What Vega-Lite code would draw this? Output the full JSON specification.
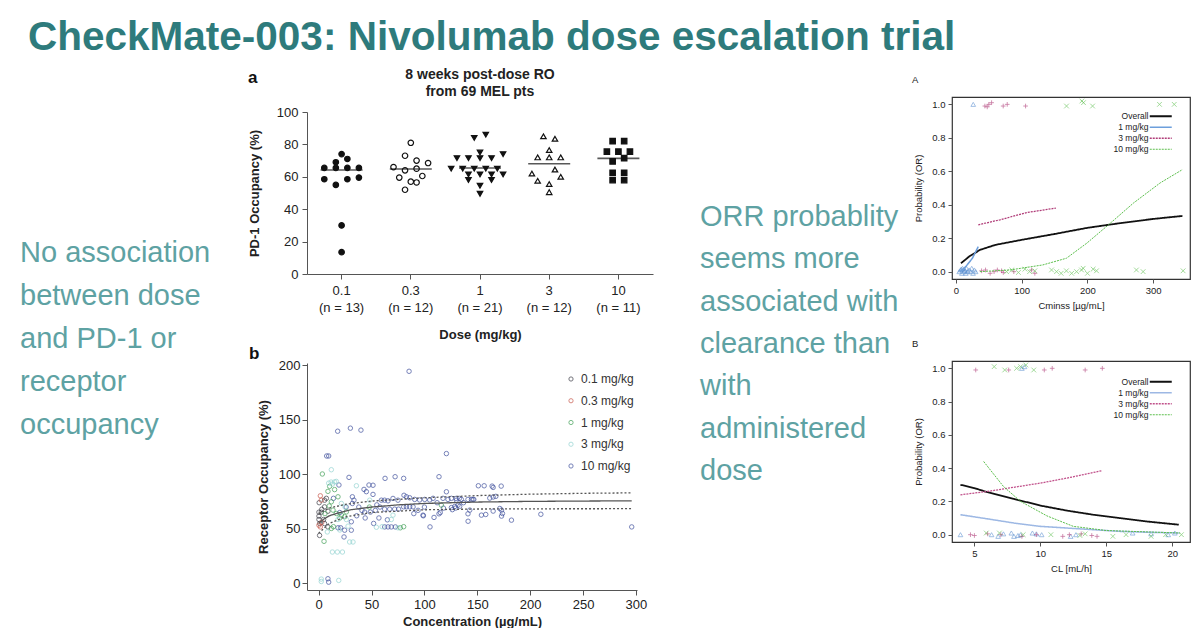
{
  "$schema": "https://vega.github.io/schema/vega-lite/v6.json",
  "background": "white",
  "padding": {"left": 20, "top": 17, "right": 0, "bottom": 0},
  "title": {"text": "CheckMate-003: Nivolumab dose escalation trial", "anchor": "start", "frame": "group", "dx": 8, "font": "Liberation Sans", "fontSize": 40.5, "fontWeight": "bold", "color": "#2e7b7c", "offset": 10},
  "spacing": 252,
  "bounds": "flush",
  "resolve": {"scale": {"color": "independent", "fill": "independent", "stroke": "independent", "shape": "independent", "size": "independent", "strokeDash": "independent", "strokeWidth": "independent"}, "legend": {"color": "independent", "fill": "independent", "stroke": "independent", "shape": "independent", "size": "independent", "strokeDash": "independent", "strokeWidth": "independent"}},
  "datasets": {
    "left_text": [
      {"line": 1, "text": "No association"},
      {"line": 2, "text": "between dose"},
      {"line": 3, "text": "and PD-1 or"},
      {"line": 4, "text": "receptor"},
      {"line": 5, "text": "occupancy"}
    ],
    "mid_text": [
      {"line": 1, "text": "ORR probablity"},
      {"line": 2, "text": "seems more"},
      {"line": 3, "text": "associated with"},
      {"line": 4, "text": "clearance than"},
      {"line": 5, "text": "with"},
      {"line": 6, "text": "administered"},
      {"line": 7, "text": "dose"}
    ],
    "ro_dose": [
      {"dose": "0.1", "ro": 74, "col": 0}, {"dose": "0.1", "ro": 71, "col": 1}, {"dose": "0.1", "ro": 69, "col": -1},
      {"dose": "0.1", "ro": 65.5, "col": -3}, {"dose": "0.1", "ro": 65.5, "col": -1}, {"dose": "0.1", "ro": 65.5, "col": 1}, {"dose": "0.1", "ro": 65.5, "col": 3},
      {"dose": "0.1", "ro": 58.5, "col": -3}, {"dose": "0.1", "ro": 58.5, "col": 1}, {"dose": "0.1", "ro": 59.5, "col": 3},
      {"dose": "0.1", "ro": 55, "col": -1}, {"dose": "0.1", "ro": 30, "col": 0}, {"dose": "0.1", "ro": 13.5, "col": 0},
      {"dose": "0.3", "ro": 81, "col": 0}, {"dose": "0.3", "ro": 73, "col": -1}, {"dose": "0.3", "ro": 70, "col": 1}, {"dose": "0.3", "ro": 68.5, "col": 3},
      {"dose": "0.3", "ro": 66, "col": -3}, {"dose": "0.3", "ro": 65, "col": 1}, {"dose": "0.3", "ro": 64, "col": -1}, {"dose": "0.3", "ro": 59.5, "col": -2},
      {"dose": "0.3", "ro": 60.5, "col": 2}, {"dose": "0.3", "ro": 57, "col": 0}, {"dose": "0.3", "ro": 56.5, "col": 1}, {"dose": "0.3", "ro": 52, "col": -1},
      {"dose": "1", "ro": 86, "col": 1}, {"dose": "1", "ro": 84, "col": -1}, {"dose": "1", "ro": 75, "col": 0}, {"dose": "1", "ro": 74, "col": 4},
      {"dose": "1", "ro": 71.5, "col": -4}, {"dose": "1", "ro": 71.5, "col": -2}, {"dose": "1", "ro": 71.5, "col": 0}, {"dose": "1", "ro": 71.5, "col": 2},
      {"dose": "1", "ro": 65, "col": -5}, {"dose": "1", "ro": 65, "col": -3}, {"dose": "1", "ro": 65, "col": -1}, {"dose": "1", "ro": 65, "col": 1}, {"dose": "1", "ro": 65, "col": 3},
      {"dose": "1", "ro": 61.5, "col": -2}, {"dose": "1", "ro": 61.5, "col": 0}, {"dose": "1", "ro": 61.5, "col": 2}, {"dose": "1", "ro": 61.5, "col": 4},
      {"dose": "1", "ro": 58, "col": -2}, {"dose": "1", "ro": 58, "col": 2}, {"dose": "1", "ro": 54.5, "col": 0}, {"dose": "1", "ro": 49.5, "col": 0},
      {"dose": "3", "ro": 85, "col": -1}, {"dose": "3", "ro": 83.5, "col": 1}, {"dose": "3", "ro": 76.5, "col": 0},
      {"dose": "3", "ro": 72, "col": -2}, {"dose": "3", "ro": 72, "col": 0}, {"dose": "3", "ro": 72, "col": 2},
      {"dose": "3", "ro": 64.5, "col": 1}, {"dose": "3", "ro": 62, "col": -3}, {"dose": "3", "ro": 60, "col": 2}, {"dose": "3", "ro": 57.5, "col": -2},
      {"dose": "3", "ro": 55.5, "col": 0}, {"dose": "3", "ro": 50.5, "col": 0},
      {"dose": "10", "ro": 82, "col": -1}, {"dose": "10", "ro": 82, "col": 1}, {"dose": "10", "ro": 75.5, "col": -2}, {"dose": "10", "ro": 75.5, "col": 0}, {"dose": "10", "ro": 75.5, "col": 2},
      {"dose": "10", "ro": 71.5, "col": 1}, {"dose": "10", "ro": 69.5, "col": -1}, {"dose": "10", "ro": 62.5, "col": -1}, {"dose": "10", "ro": 62.5, "col": 1},
      {"dose": "10", "ro": 58, "col": -1}, {"dose": "10", "ro": 58, "col": 1}
    ],
    "ro_median": [
      {"dose": "0.1", "ro": 64.2}, {"dose": "0.3", "ro": 64.8}, {"dose": "1", "ro": 65.4}, {"dose": "3", "ro": 68.1}, {"dose": "10", "ro": 71.4}
    ],
    "ro_conc": [
      {"c": 85.5, "r": 194.4, "d": "10 mg/kg"}, {"c": 18, "r": 139.5, "d": "10 mg/kg"}, {"c": 30, "r": 142.3, "d": "10 mg/kg"}, {"c": 40, "r": 140.5, "d": "10 mg/kg"},
      {"c": 7.6, "r": 116.8, "d": "10 mg/kg"}, {"c": 9.5, "r": 116.8, "d": "10 mg/kg"}, {"c": 120.8, "r": 119, "d": "10 mg/kg"}, {"c": 28.7, "r": 97.2, "d": "10 mg/kg"},
      {"c": 62.8, "r": 96.3, "d": "10 mg/kg"}, {"c": 72.3, "r": 97.8, "d": "10 mg/kg"}, {"c": 80.4, "r": 96.3, "d": "10 mg/kg"}, {"c": 113.8, "r": 97.8, "d": "10 mg/kg"},
      {"c": 151, "r": 89.5, "d": "10 mg/kg"}, {"c": 156.5, "r": 89.5, "d": "10 mg/kg"}, {"c": 164, "r": 89.2, "d": "10 mg/kg"}, {"c": 165, "r": 88, "d": "10 mg/kg"},
      {"c": 172.6, "r": 89.2, "d": "10 mg/kg"}, {"c": 51.4, "r": 90, "d": "10 mg/kg"}, {"c": 19.2, "r": 90.2, "d": "10 mg/kg"}, {"c": 47.6, "r": 90.2, "d": "10 mg/kg"},
      {"c": 42.9, "r": 86.2, "d": "10 mg/kg"}, {"c": 45.1, "r": 84.1, "d": "10 mg/kg"}, {"c": 51.4, "r": 81.6, "d": "10 mg/kg"}, {"c": 31.9, "r": 79.4, "d": "10 mg/kg"},
      {"c": 33.4, "r": 76.3, "d": "10 mg/kg"}, {"c": 31.9, "r": 73.3, "d": "10 mg/kg"}, {"c": 59.3, "r": 76.3, "d": "10 mg/kg"}, {"c": 62.4, "r": 76.3, "d": "10 mg/kg"},
      {"c": 65.6, "r": 75.7, "d": "10 mg/kg"}, {"c": 70.3, "r": 77.9, "d": "10 mg/kg"}, {"c": 75, "r": 76.3, "d": "10 mg/kg"}, {"c": 80.7, "r": 80.8, "d": "10 mg/kg"},
      {"c": 83, "r": 79.4, "d": "10 mg/kg"}, {"c": 86.1, "r": 78.5, "d": "10 mg/kg"}, {"c": 90.8, "r": 77, "d": "10 mg/kg"}, {"c": 95.5, "r": 76.5, "d": "10 mg/kg"},
      {"c": 100.3, "r": 77, "d": "10 mg/kg"}, {"c": 105, "r": 76.5, "d": "10 mg/kg"}, {"c": 108.2, "r": 78, "d": "10 mg/kg"}, {"c": 117.6, "r": 78, "d": "10 mg/kg"},
      {"c": 122.3, "r": 77, "d": "10 mg/kg"}, {"c": 125.5, "r": 78, "d": "10 mg/kg"}, {"c": 130.2, "r": 76.3, "d": "10 mg/kg"}, {"c": 134.9, "r": 77, "d": "10 mg/kg"},
      {"c": 141.2, "r": 77, "d": "10 mg/kg"}, {"c": 145.9, "r": 77, "d": "10 mg/kg"}, {"c": 80.4, "r": 70.2, "d": "10 mg/kg"}, {"c": 83, "r": 70.2, "d": "10 mg/kg"},
      {"c": 86.1, "r": 70.2, "d": "10 mg/kg"}, {"c": 89.3, "r": 70.2, "d": "10 mg/kg"}, {"c": 125.5, "r": 69.5, "d": "10 mg/kg"}, {"c": 128.7, "r": 70.5, "d": "10 mg/kg"},
      {"c": 131.8, "r": 71.8, "d": "10 mg/kg"}, {"c": 98.7, "r": 62.6, "d": "10 mg/kg"}, {"c": 109.1, "r": 60.5, "d": "10 mg/kg"}, {"c": 105.3, "r": 51.8, "d": "10 mg/kg"},
      {"c": 113.8, "r": 63.8, "d": "10 mg/kg"}, {"c": 141.2, "r": 63.8, "d": "10 mg/kg"}, {"c": 141.3, "r": 57, "d": "10 mg/kg"}, {"c": 41, "r": 66.9, "d": "10 mg/kg"},
      {"c": 43.5, "r": 65.4, "d": "10 mg/kg"}, {"c": 48.9, "r": 65.4, "d": "10 mg/kg"}, {"c": 53.6, "r": 66.9, "d": "10 mg/kg"}, {"c": 62.4, "r": 68.1, "d": "10 mg/kg"},
      {"c": 67.2, "r": 68.1, "d": "10 mg/kg"}, {"c": 71.9, "r": 68.1, "d": "10 mg/kg"}, {"c": 75.6, "r": 68.1, "d": "10 mg/kg"}, {"c": 62.4, "r": 51.8, "d": "10 mg/kg"},
      {"c": 65.6, "r": 51.8, "d": "10 mg/kg"}, {"c": 68.7, "r": 51.8, "d": "10 mg/kg"}, {"c": 72.5, "r": 51.8, "d": "10 mg/kg"}, {"c": 65, "r": 58.3, "d": "10 mg/kg"},
      {"c": 24.6, "r": 48.8, "d": "10 mg/kg"}, {"c": 24, "r": 42.6, "d": "10 mg/kg"}, {"c": 20.8, "r": 51, "d": "10 mg/kg"}, {"c": 18.3, "r": 51, "d": "10 mg/kg"},
      {"c": 30.9, "r": 48.8, "d": "10 mg/kg"}, {"c": 30.9, "r": 56.5, "d": "10 mg/kg"}, {"c": 9.5, "r": 1.2, "d": "10 mg/kg"}, {"c": 8.8, "r": 4.3, "d": "10 mg/kg"},
      {"c": 144.5, "r": 77, "d": "10 mg/kg"}, {"c": 146.7, "r": 77, "d": "10 mg/kg"}, {"c": 161.8, "r": 78.2, "d": "10 mg/kg"}, {"c": 165, "r": 79.2, "d": "10 mg/kg"},
      {"c": 167.5, "r": 79.8, "d": "10 mg/kg"}, {"c": 142.9, "r": 67.2, "d": "10 mg/kg"}, {"c": 153.9, "r": 62.6, "d": "10 mg/kg"}, {"c": 158, "r": 63.2, "d": "10 mg/kg"},
      {"c": 165, "r": 66.3, "d": "10 mg/kg"}, {"c": 171.3, "r": 68.7, "d": "10 mg/kg"}, {"c": 172.9, "r": 67.2, "d": "10 mg/kg"}, {"c": 173.8, "r": 64.1, "d": "10 mg/kg"},
      {"c": 172.9, "r": 61.7, "d": "10 mg/kg"}, {"c": 182.3, "r": 58, "d": "10 mg/kg"}, {"c": 210.1, "r": 63.4, "d": "10 mg/kg"}, {"c": 296, "r": 51.8, "d": "10 mg/kg"},
      {"c": 99, "r": 62, "d": "10 mg/kg"}, {"c": 115, "r": 65, "d": "10 mg/kg"}, {"c": 130, "r": 77.9, "d": "10 mg/kg"}, {"c": 133, "r": 77.9, "d": "10 mg/kg"},
      {"c": 126.4, "r": 67.6, "d": "10 mg/kg"}, {"c": 129.6, "r": 69.1, "d": "10 mg/kg"}, {"c": 133.4, "r": 70.7, "d": "10 mg/kg"}, {"c": 120.8, "r": 84, "d": "10 mg/kg"},
      {"c": 36, "r": 62, "d": "10 mg/kg"}, {"c": 38, "r": 70, "d": "10 mg/kg"}, {"c": 55, "r": 72, "d": "10 mg/kg"}, {"c": 57, "r": 60, "d": "10 mg/kg"},
      {"c": 90, "r": 64, "d": "10 mg/kg"}, {"c": 94, "r": 67, "d": "10 mg/kg"}, {"c": 20, "r": 65, "d": "10 mg/kg"}, {"c": 26, "r": 70, "d": "10 mg/kg"},
      {"c": 14, "r": 78, "d": "10 mg/kg"}, {"c": 58, "r": 70, "d": "10 mg/kg"}, {"c": 44, "r": 60, "d": "10 mg/kg"}, {"c": 52, "r": 55, "d": "10 mg/kg"},
      {"c": 112, "r": 74, "d": "10 mg/kg"}, {"c": 118, "r": 69, "d": "10 mg/kg"}, {"c": 137, "r": 74, "d": "10 mg/kg"}, {"c": 100, "r": 70, "d": "10 mg/kg"},
      {"c": 0.3, "r": 65.3, "d": "0.1 mg/kg"}, {"c": 2.5, "r": 65.3, "d": "0.1 mg/kg"}, {"c": 5.6, "r": 70.2, "d": "0.1 mg/kg"}, {"c": 8.8, "r": 66.2, "d": "0.1 mg/kg"},
      {"c": 0.3, "r": 58.6, "d": "0.1 mg/kg"}, {"c": 0.3, "r": 61.7, "d": "0.1 mg/kg"}, {"c": 4.7, "r": 58.6, "d": "0.1 mg/kg"}, {"c": 0.9, "r": 44, "d": "0.1 mg/kg"},
      {"c": 5.6, "r": 76.3, "d": "0.1 mg/kg"}, {"c": 7.3, "r": 78, "d": "0.1 mg/kg"}, {"c": 8.8, "r": 51.8, "d": "0.1 mg/kg"}, {"c": 5.6, "r": 54.9, "d": "0.1 mg/kg"},
      {"c": 0.5, "r": 74, "d": "0.1 mg/kg"}, {"c": 3, "r": 68, "d": "0.1 mg/kg"}, {"c": 1, "r": 55, "d": "0.1 mg/kg"},
      {"c": 1.6, "r": 80.3, "d": "0.3 mg/kg"}, {"c": 1.6, "r": 51.8, "d": "0.3 mg/kg"}, {"c": 2.5, "r": 76.3, "d": "0.3 mg/kg"}, {"c": 0.3, "r": 53.4, "d": "0.3 mg/kg"}, {"c": 3, "r": 56, "d": "0.3 mg/kg"},
      {"c": 3.5, "r": 100.3, "d": "1 mg/kg"}, {"c": 5.1, "r": 38.6, "d": "1 mg/kg"}, {"c": 8.8, "r": 84.4, "d": "1 mg/kg"}, {"c": 10.4, "r": 89, "d": "1 mg/kg"},
      {"c": 15.1, "r": 86, "d": "1 mg/kg"}, {"c": 18.3, "r": 79.4, "d": "1 mg/kg"}, {"c": 12, "r": 74.8, "d": "1 mg/kg"}, {"c": 13.6, "r": 67.2, "d": "1 mg/kg"},
      {"c": 16.7, "r": 64.1, "d": "1 mg/kg"}, {"c": 21.5, "r": 62.6, "d": "1 mg/kg"}, {"c": 24.6, "r": 61.1, "d": "1 mg/kg"}, {"c": 12, "r": 50.4, "d": "1 mg/kg"},
      {"c": 26.2, "r": 65.6, "d": "1 mg/kg"}, {"c": 77.2, "r": 51, "d": "1 mg/kg"}, {"c": 80.4, "r": 52, "d": "1 mg/kg"}, {"c": 116, "r": 71.8, "d": "1 mg/kg"},
      {"c": 10, "r": 71, "d": "1 mg/kg"}, {"c": 6, "r": 64, "d": "1 mg/kg"}, {"c": 20, "r": 60, "d": "1 mg/kg"}, {"c": 48, "r": 70, "d": "1 mg/kg"}, {"c": 14, "r": 52, "d": "1 mg/kg"},
      {"c": 12, "r": 104.2, "d": "3 mg/kg"}, {"c": 9.5, "r": 91.9, "d": "3 mg/kg"}, {"c": 16.7, "r": 93.5, "d": "3 mg/kg"}, {"c": 35.7, "r": 89.5, "d": "3 mg/kg"},
      {"c": 21.5, "r": 73.3, "d": "3 mg/kg"}, {"c": 26.2, "r": 58.6, "d": "3 mg/kg"}, {"c": 27.8, "r": 52.5, "d": "3 mg/kg"}, {"c": 8.2, "r": 47.2, "d": "3 mg/kg"},
      {"c": 18.3, "r": 58.6, "d": "3 mg/kg"}, {"c": 48.3, "r": 76.3, "d": "3 mg/kg"}, {"c": 68.7, "r": 58.6, "d": "3 mg/kg"}, {"c": 70.3, "r": 62.6, "d": "3 mg/kg"},
      {"c": 54.6, "r": 51.5, "d": "3 mg/kg"}, {"c": 29.3, "r": 38, "d": "3 mg/kg"}, {"c": 32.5, "r": 38, "d": "3 mg/kg"}, {"c": 13, "r": 28.8, "d": "3 mg/kg"},
      {"c": 17.7, "r": 28.8, "d": "3 mg/kg"}, {"c": 22.5, "r": 28.8, "d": "3 mg/kg"}, {"c": 2.5, "r": 1.8, "d": "3 mg/kg"}, {"c": 19, "r": 2.8, "d": "3 mg/kg"},
      {"c": 2.5, "r": 4, "d": "3 mg/kg"}, {"c": 13, "r": 91, "d": "3 mg/kg"}, {"c": 15.1, "r": 93, "d": "3 mg/kg"}, {"c": 11.8, "r": 92.9, "d": "3 mg/kg"},
      {"c": 25, "r": 70, "d": "3 mg/kg"}, {"c": 60, "r": 52, "d": "3 mg/kg"}, {"c": 75, "r": 51, "d": "3 mg/kg"}, {"c": 20, "r": 49, "d": "3 mg/kg"}
    ],
    "ro_fit": [
      {"c": 0, "r": 55, "k": "fit"}, {"c": 5, "r": 59, "k": "fit"}, {"c": 10, "r": 62, "k": "fit"}, {"c": 20, "r": 65, "k": "fit"}, {"c": 30, "r": 67.5, "k": "fit"},
      {"c": 50, "r": 70, "k": "fit"}, {"c": 75, "r": 72, "k": "fit"}, {"c": 100, "r": 73.3, "k": "fit"}, {"c": 150, "r": 74.6, "k": "fit"}, {"c": 200, "r": 75.2, "k": "fit"},
      {"c": 250, "r": 75.5, "k": "fit"}, {"c": 296, "r": 75.7, "k": "fit"},
      {"c": 0, "r": 64, "k": "upper"}, {"c": 10, "r": 69, "k": "upper"}, {"c": 25, "r": 72.5, "k": "upper"}, {"c": 50, "r": 75.5, "k": "upper"}, {"c": 100, "r": 78.5, "k": "upper"},
      {"c": 150, "r": 80.5, "k": "upper"}, {"c": 200, "r": 81.8, "k": "upper"}, {"c": 250, "r": 82.6, "k": "upper"}, {"c": 296, "r": 83, "k": "upper"},
      {"c": 0, "r": 46, "k": "lower"}, {"c": 10, "r": 55, "k": "lower"}, {"c": 25, "r": 61, "k": "lower"}, {"c": 50, "r": 65, "k": "lower"}, {"c": 100, "r": 67.5, "k": "lower"},
      {"c": 150, "r": 68.2, "k": "lower"}, {"c": 200, "r": 68.4, "k": "lower"}, {"c": 296, "r": 68.5, "k": "lower"}
    ],
    "orr_c_pts": [
      {"x": 26.3, "y": 1.0, "g": "1 mg/kg"}, {"x": 5, "y": 0, "g": "1 mg/kg"}, {"x": 7, "y": 0.01, "g": "1 mg/kg"}, {"x": 9, "y": -0.01, "g": "1 mg/kg"}, {"x": 10, "y": 0.02, "g": "1 mg/kg"},
      {"x": 12, "y": 0, "g": "1 mg/kg"}, {"x": 13, "y": 0.01, "g": "1 mg/kg"}, {"x": 15, "y": -0.01, "g": "1 mg/kg"}, {"x": 16, "y": 0.02, "g": "1 mg/kg"}, {"x": 18, "y": 0, "g": "1 mg/kg"},
      {"x": 20, "y": 0.01, "g": "1 mg/kg"}, {"x": 22, "y": 0, "g": "1 mg/kg"}, {"x": 24, "y": 0.02, "g": "1 mg/kg"}, {"x": 26, "y": -0.01, "g": "1 mg/kg"}, {"x": 28, "y": 0.01, "g": "1 mg/kg"},
      {"x": 30, "y": 0, "g": "1 mg/kg"}, {"x": 14, "y": 0.005, "g": "1 mg/kg"}, {"x": 8, "y": 0.015, "g": "1 mg/kg"},
      {"x": 44, "y": 0.99, "g": "3 mg/kg"}, {"x": 47.6, "y": 0.985, "g": "3 mg/kg"}, {"x": 50, "y": 1.0, "g": "3 mg/kg"}, {"x": 54.2, "y": 1.01, "g": "3 mg/kg"}, {"x": 71.9, "y": 0.99, "g": "3 mg/kg"},
      {"x": 78, "y": 1.0, "g": "3 mg/kg"}, {"x": 105.9, "y": 0.99, "g": "3 mg/kg"}, {"x": 39, "y": 0.005, "g": "3 mg/kg"}, {"x": 45, "y": 0.01, "g": "3 mg/kg"}, {"x": 52, "y": -0.01, "g": "3 mg/kg"},
      {"x": 58, "y": 0, "g": "3 mg/kg"}, {"x": 63, "y": 0.01, "g": "3 mg/kg"}, {"x": 69.4, "y": 0.005, "g": "3 mg/kg"}, {"x": 72, "y": -0.005, "g": "3 mg/kg"}, {"x": 88, "y": 0, "g": "3 mg/kg"},
      {"x": 115, "y": 0.01, "g": "3 mg/kg"}, {"x": 120, "y": -0.01, "g": "3 mg/kg"},
      {"x": 168.2, "y": 0.99, "g": "10 mg/kg"}, {"x": 191.6, "y": 1.02, "g": "10 mg/kg"}, {"x": 194, "y": 1.01, "g": "10 mg/kg"}, {"x": 207.8, "y": 0.99, "g": "10 mg/kg"}, {"x": 309.6, "y": 1.0, "g": "10 mg/kg"},
      {"x": 332, "y": 1.0, "g": "10 mg/kg"}, {"x": 77, "y": 0, "g": "10 mg/kg"}, {"x": 85, "y": 0.01, "g": "10 mg/kg"}, {"x": 95, "y": -0.005, "g": "10 mg/kg"}, {"x": 105, "y": 0.015, "g": "10 mg/kg"},
      {"x": 112, "y": 0, "g": "10 mg/kg"}, {"x": 120, "y": 0.005, "g": "10 mg/kg"}, {"x": 145.4, "y": 0.01, "g": "10 mg/kg"}, {"x": 153, "y": 0, "g": "10 mg/kg"}, {"x": 160, "y": -0.01, "g": "10 mg/kg"},
      {"x": 168, "y": 0.005, "g": "10 mg/kg"}, {"x": 176, "y": -0.01, "g": "10 mg/kg"}, {"x": 183.5, "y": 0, "g": "10 mg/kg"}, {"x": 191, "y": 0.01, "g": "10 mg/kg"}, {"x": 193.5, "y": 0.02, "g": "10 mg/kg"},
      {"x": 200, "y": -0.01, "g": "10 mg/kg"}, {"x": 208.7, "y": 0.015, "g": "10 mg/kg"}, {"x": 213.8, "y": 0.005, "g": "10 mg/kg"}, {"x": 274.5, "y": 0.01, "g": "10 mg/kg"}, {"x": 284.7, "y": 0, "g": "10 mg/kg"},
      {"x": 345.5, "y": 0.005, "g": "10 mg/kg"}
    ],
    "orr_c_lines": [
      {"x": 7.6, "y": 0.05, "g": "Overall"}, {"x": 20, "y": 0.09, "g": "Overall"}, {"x": 36.5, "y": 0.13, "g": "Overall"}, {"x": 60, "y": 0.16, "g": "Overall"}, {"x": 100, "y": 0.19, "g": "Overall"},
      {"x": 150, "y": 0.225, "g": "Overall"}, {"x": 200, "y": 0.262, "g": "Overall"}, {"x": 250, "y": 0.29, "g": "Overall"}, {"x": 300, "y": 0.315, "g": "Overall"}, {"x": 344.5, "y": 0.333, "g": "Overall"},
      {"x": 6, "y": 0, "g": "1 mg/kg"}, {"x": 15, "y": 0.03, "g": "1 mg/kg"}, {"x": 25, "y": 0.08, "g": "1 mg/kg"}, {"x": 34, "y": 0.15, "g": "1 mg/kg"},
      {"x": 34, "y": 0.28, "g": "3 mg/kg"}, {"x": 67, "y": 0.31, "g": "3 mg/kg"}, {"x": 107.6, "y": 0.353, "g": "3 mg/kg"}, {"x": 152, "y": 0.38, "g": "3 mg/kg"},
      {"x": 36.5, "y": 0, "g": "10 mg/kg"}, {"x": 82, "y": 0.01, "g": "10 mg/kg"}, {"x": 132, "y": 0.04, "g": "10 mg/kg"}, {"x": 168, "y": 0.08, "g": "10 mg/kg"}, {"x": 199, "y": 0.17, "g": "10 mg/kg"},
      {"x": 232, "y": 0.28, "g": "10 mg/kg"}, {"x": 270, "y": 0.41, "g": "10 mg/kg"}, {"x": 310.5, "y": 0.53, "g": "10 mg/kg"}, {"x": 344.5, "y": 0.61, "g": "10 mg/kg"}
    ],
    "orr_cl_pts": [
      {"x": 8.6, "y": 1.0, "g": "1 mg/kg"}, {"x": 8.8, "y": 1.01, "g": "1 mg/kg"}, {"x": 3.94, "y": 0, "g": "1 mg/kg"}, {"x": 6.3, "y": 0, "g": "1 mg/kg"}, {"x": 6.8, "y": -0.01, "g": "1 mg/kg"},
      {"x": 7.2, "y": 0.005, "g": "1 mg/kg"}, {"x": 7.8, "y": 0.01, "g": "1 mg/kg"}, {"x": 8.0, "y": -0.01, "g": "1 mg/kg"}, {"x": 8.3, "y": -0.005, "g": "1 mg/kg"}, {"x": 8.5, "y": 0, "g": "1 mg/kg"},
      {"x": 9.4, "y": 0.01, "g": "1 mg/kg"}, {"x": 9.7, "y": 0.005, "g": "1 mg/kg"}, {"x": 10.1, "y": 0, "g": "1 mg/kg"}, {"x": 12.3, "y": -0.01, "g": "1 mg/kg"}, {"x": 12.7, "y": 0, "g": "1 mg/kg"},
      {"x": 17, "y": 0.01, "g": "1 mg/kg"}, {"x": 18.4, "y": 0.005, "g": "1 mg/kg"}, {"x": 19.7, "y": 0, "g": "1 mg/kg"}, {"x": 20.2, "y": 0.01, "g": "1 mg/kg"},
      {"x": 5.1, "y": 0.99, "g": "3 mg/kg"}, {"x": 7.6, "y": 0.99, "g": "3 mg/kg"}, {"x": 10.3, "y": 0.99, "g": "3 mg/kg"}, {"x": 10.9, "y": 1.0, "g": "3 mg/kg"}, {"x": 13.4, "y": 0.99, "g": "3 mg/kg"},
      {"x": 14.7, "y": 1.0, "g": "3 mg/kg"}, {"x": 4.7, "y": 0, "g": "3 mg/kg"}, {"x": 5.0, "y": -0.005, "g": "3 mg/kg"}, {"x": 6.0, "y": 0.005, "g": "3 mg/kg"}, {"x": 7.0, "y": 0, "g": "3 mg/kg"},
      {"x": 8.6, "y": -0.01, "g": "3 mg/kg"}, {"x": 9.7, "y": 0, "g": "3 mg/kg"}, {"x": 11.7, "y": -0.01, "g": "3 mg/kg"}, {"x": 12.2, "y": 0, "g": "3 mg/kg"}, {"x": 13.1, "y": 0.005, "g": "3 mg/kg"},
      {"x": 13.9, "y": -0.005, "g": "3 mg/kg"}, {"x": 14.3, "y": -0.01, "g": "3 mg/kg"},
      {"x": 6.5, "y": 1.01, "g": "10 mg/kg"}, {"x": 7.3, "y": 0.99, "g": "10 mg/kg"}, {"x": 8.2, "y": 1.0, "g": "10 mg/kg"}, {"x": 8.5, "y": 1.01, "g": "10 mg/kg"}, {"x": 8.9, "y": 1.02, "g": "10 mg/kg"},
      {"x": 9.5, "y": 0.99, "g": "10 mg/kg"}, {"x": 5.9, "y": 0.01, "g": "10 mg/kg"}, {"x": 6.9, "y": 0.01, "g": "10 mg/kg"}, {"x": 8.7, "y": 0, "g": "10 mg/kg"}, {"x": 10.8, "y": 0, "g": "10 mg/kg"},
      {"x": 13.0, "y": -0.005, "g": "10 mg/kg"}, {"x": 13.4, "y": 0.005, "g": "10 mg/kg"}, {"x": 15.5, "y": -0.01, "g": "10 mg/kg"}, {"x": 16.5, "y": 0, "g": "10 mg/kg"}, {"x": 18.4, "y": -0.01, "g": "10 mg/kg"},
      {"x": 19.5, "y": 0, "g": "10 mg/kg"}, {"x": 20.7, "y": 0, "g": "10 mg/kg"}
    ],
    "orr_cl_lines": [
      {"x": 3.94, "y": 0.30, "g": "Overall"}, {"x": 5, "y": 0.28, "g": "Overall"}, {"x": 6, "y": 0.255, "g": "Overall"}, {"x": 8, "y": 0.215, "g": "Overall"}, {"x": 10, "y": 0.175, "g": "Overall"},
      {"x": 12, "y": 0.145, "g": "Overall"}, {"x": 14, "y": 0.12, "g": "Overall"}, {"x": 16, "y": 0.1, "g": "Overall"}, {"x": 18, "y": 0.08, "g": "Overall"}, {"x": 20.5, "y": 0.06, "g": "Overall"},
      {"x": 3.94, "y": 0.12, "g": "1 mg/kg"}, {"x": 6, "y": 0.095, "g": "1 mg/kg"}, {"x": 8, "y": 0.07, "g": "1 mg/kg"}, {"x": 10, "y": 0.05, "g": "1 mg/kg"}, {"x": 12, "y": 0.04, "g": "1 mg/kg"},
      {"x": 14, "y": 0.03, "g": "1 mg/kg"}, {"x": 16, "y": 0.02, "g": "1 mg/kg"}, {"x": 18, "y": 0.015, "g": "1 mg/kg"}, {"x": 20.5, "y": 0.01, "g": "1 mg/kg"},
      {"x": 3.94, "y": 0.24, "g": "3 mg/kg"}, {"x": 6, "y": 0.26, "g": "3 mg/kg"}, {"x": 8, "y": 0.285, "g": "3 mg/kg"}, {"x": 10, "y": 0.31, "g": "3 mg/kg"}, {"x": 12, "y": 0.34, "g": "3 mg/kg"},
      {"x": 14.7, "y": 0.385, "g": "3 mg/kg"},
      {"x": 5.7, "y": 0.44, "g": "10 mg/kg"}, {"x": 7.2, "y": 0.29, "g": "10 mg/kg"}, {"x": 8.5, "y": 0.2, "g": "10 mg/kg"}, {"x": 10.5, "y": 0.113, "g": "10 mg/kg"}, {"x": 12.5, "y": 0.05, "g": "10 mg/kg"},
      {"x": 15, "y": 0.025, "g": "10 mg/kg"}, {"x": 20.6, "y": 0.01, "g": "10 mg/kg"}
    ]
  },
  "hconcat": [
    {
      "width": 35, "height": 430,
      "data": {"name": "left_text"},
      "mark": {"type": "text", "align": "left", "baseline": "alphabetic", "fontSize": 29, "color": "#5ea2a3", "font": "Liberation Sans"},
      "encoding": {
        "x": {"datum": 0, "type": "quantitative", "scale": {"domain": [0, 1]}, "axis": null},
        "y": {"field": "line", "type": "quantitative", "scale": {"domain": [-2.83, 7.17], "reverse": true, "nice": false, "zero": false}, "axis": null},
        "text": {"field": "text"}
      }
    },
    {
      "vconcat": [
        {
          "width": 346, "height": 15,
          "title": {"text": "a", "anchor": "start", "frame": "group", "dx": -59, "fontSize": 17, "fontWeight": "bold", "offset": 10, "color": "#111"},
          "data": {"values": []},
          "mark": "point"
        },
        {
          "vconcat": [
            {
              "width": 346, "height": 162,
              "title": {"text": ["8 weeks post-dose RO", "from 69 MEL pts"], "anchor": "middle", "frame": "group", "fontSize": 14, "fontWeight": "bold", "lineHeight": 17, "offset": 7, "color": "#222"},
              "layer": [
                {
                  "data": {"name": "ro_dose"},
                  "mark": {"type": "point", "filled": true, "stroke": "#111", "strokeWidth": 1.2, "size": 30, "opacity": 1},
                  "encoding": {
                    "x": {"field": "dose", "type": "ordinal", "sort": ["0.1", "0.3", "1", "3", "10"], "scale": {"paddingInner": 0, "paddingOuter": 0},
                      "axis": {"title": "Dose (mg/kg)", "titleFontSize": 13, "titleFontWeight": "bold", "labelAngle": 0, "labelFontSize": 13, "labelLineHeight": 17, "tickSize": 5, "labelPadding": 5, "titlePadding": 14, "bandPosition": 0.5,
                        "labelExpr": "datum.value == '0.1' ? ['0.1', '(n = 13)'] : datum.value == '0.3' ? ['0.3', '(n = 12)'] : datum.value == '1' ? ['1', '(n = 21)'] : datum.value == '3' ? ['3', '(n = 12)'] : ['10', '(n = 11)']"}},
                    "xOffset": {"field": "col", "type": "ordinal", "scale": {"domain": [-6, -5, -4, -3, -2, -1, 0, 1, 2, 3, 4, 5, 6], "paddingInner": 0, "paddingOuter": 0}},
                    "y": {"field": "ro", "type": "quantitative", "scale": {"domain": [0, 100], "nice": false},
                      "axis": {"title": "PD-1 Occupancy (%)", "titleFontSize": 13, "titleFontWeight": "bold", "values": [0, 20, 40, 60, 80, 100], "labelOverlap": false, "labelSeparation": 0, "labelFontSize": 13, "tickSize": 5, "labelPadding": 4, "titlePadding": 15}},
                    "fill": {"field": "dose", "type": "nominal", "scale": {"domain": ["0.1", "0.3", "1", "3", "10"], "range": ["#111111", "#ffffff", "#111111", "#ffffff", "#111111"]}, "legend": null},
                    "shape": {"field": "dose", "type": "nominal", "scale": {"domain": ["0.1", "0.3", "1", "3", "10"], "range": ["circle", "circle", "triangle-down", "triangle-up", "square"]}, "legend": null}
                  }
                },
                {
                  "data": {"name": "ro_median"},
                  "mark": {"type": "tick", "size": 42, "thickness": 1.6, "color": "#111"},
                  "encoding": {
                    "x": {"field": "dose", "type": "ordinal", "sort": ["0.1", "0.3", "1", "3", "10"]},
                    "y": {"field": "ro", "type": "quantitative",
                      "axis": {"title": "PD-1 Occupancy (%)", "titleFontSize": 13, "titleFontWeight": "bold", "values": [0, 20, 40, 60, 80, 100], "labelOverlap": false, "labelSeparation": 0, "labelFontSize": 13, "tickSize": 5, "labelPadding": 4, "titlePadding": 15}}
                  }
                }
              ]
            },
            {
              "width": 330, "height": 227,
              "title": {"text": "b", "anchor": "start", "frame": "group", "dx": -58, "fontSize": 17, "fontWeight": "bold", "offset": -4, "color": "#111"},
              "layer": [
                {
                  "data": {"name": "ro_conc"},
                  "mark": {"type": "point", "shape": "circle", "size": 20, "strokeWidth": 1, "filled": false},
                  "encoding": {
                    "x": {"field": "c", "type": "quantitative", "scale": {"domain": [-11, 301], "nice": false, "zero": false},
                      "axis": {"title": "Concentration (µg/mL)", "titleFontSize": 13, "titleFontWeight": "bold", "values": [0, 50, 100, 150, 200, 250, 300], "labelFontSize": 13, "tickSize": 5, "labelPadding": 3, "titlePadding": 4}},
                    "y": {"field": "r", "type": "quantitative", "scale": {"domain": [-6, 202], "nice": false, "zero": false},
                      "axis": {"title": "Receptor Occupancy (%)", "titleFontSize": 13, "titleFontWeight": "bold", "values": [0, 50, 100, 150, 200], "labelOverlap": false, "labelFontSize": 13, "tickSize": 5, "labelPadding": 2, "titlePadding": 8}},
                    "color": {"field": "d", "type": "nominal", "scale": {"domain": ["0.1 mg/kg", "0.3 mg/kg", "1 mg/kg", "3 mg/kg", "10 mg/kg"], "range": ["#3a3a44", "#c8574a", "#3f9f55", "#92d4d2", "#3d4e9c"]},
                      "legend": {"orient": "none", "legendX": 258, "legendY": 10, "title": null, "labelFontSize": 12, "labelColor": "#333", "symbolType": "circle", "symbolSize": 18, "symbolStrokeWidth": 1, "symbolFillColor": "transparent", "rowPadding": 9.75, "labelOffset": 4, "padding": 0}}
                  }
                },
                {
                  "data": {"name": "ro_fit"},
                  "mark": {"type": "line", "color": "#555", "strokeWidth": 1.3},
                  "encoding": {
                    "x": {"field": "c", "type": "quantitative"},
                    "y": {"field": "r", "type": "quantitative"},
                    "strokeDash": {"field": "k", "type": "nominal", "scale": {"domain": ["fit", "upper", "lower"], "range": [[1, 0], [2, 2], [2, 2]]}, "legend": null}
                  }
                }
              ]
            }
          ],
          "spacing": 89,
          "bounds": "flush",
          "resolve": {"scale": {"color": "independent", "fill": "independent", "stroke": "independent", "shape": "independent", "size": "independent", "strokeDash": "independent", "strokeWidth": "independent"}, "legend": {"color": "independent", "fill": "independent", "stroke": "independent", "shape": "independent", "size": "independent", "strokeDash": "independent", "strokeWidth": "independent"}}
        }
      ],
      "spacing": 0,
      "bounds": "flush",
      "resolve": {"scale": {"color": "independent", "fill": "independent", "stroke": "independent", "shape": "independent", "size": "independent", "strokeDash": "independent", "strokeWidth": "independent"}, "legend": {"color": "independent", "fill": "independent", "stroke": "independent", "shape": "independent", "size": "independent", "strokeDash": "independent", "strokeWidth": "independent"}}
    },
    {
      "width": 141, "height": 423,
      "data": {"name": "mid_text"},
      "mark": {"type": "text", "align": "left", "baseline": "alphabetic", "fontSize": 29, "color": "#5ea2a3", "font": "Liberation Sans"},
      "encoding": {
        "x": {"datum": 1, "type": "quantitative", "scale": {"domain": [0, 1]}, "axis": null},
        "y": {"field": "line", "type": "quantitative", "scale": {"domain": [-2.05, 7.95], "reverse": true, "nice": false, "zero": false}, "axis": null},
        "text": {"field": "text"}
      }
    },
    {
      "vconcat": [
        {
          "width": 238, "height": 182,
          "view": {"stroke": "#333", "strokeWidth": 1.2},
          "title": {"text": "A", "anchor": "start", "frame": "group", "dx": -40, "fontSize": 9.5, "fontWeight": "normal", "offset": 13, "color": "#222"},
          "layer": [
            {
              "data": {"name": "orr_c_pts"},
              "mark": {"type": "point", "size": 22, "strokeWidth": 0.8, "filled": false},
              "encoding": {
                "x": {"field": "x", "type": "quantitative", "scale": {"domain": [-6, 356], "nice": false, "zero": false},
                  "axis": {"title": "Cminss [µg/mL]", "titleFontSize": 9.5, "titleFontWeight": "normal", "values": [0, 100, 200, 300], "labelFontSize": 9.5, "tickSize": 4, "labelPadding": 2, "titlePadding": 6, "domain": false}},
                "y": {"field": "y", "type": "quantitative", "scale": {"domain": [-0.044, 1.044], "nice": false, "zero": false},
                  "axis": {"title": "Probability (OR)", "titleFontSize": 9.5, "titleFontWeight": "normal", "values": [0, 0.2, 0.4, 0.6, 0.8, 1], "labelOverlap": false, "labelSeparation": 0, "format": ".1f", "labelFontSize": 9.5, "tickSize": 4, "labelPadding": 3, "titlePadding": 8, "domain": false}},
                "stroke": {"field": "g", "type": "nominal", "scale": {"domain": ["1 mg/kg", "3 mg/kg", "10 mg/kg"], "range": ["#5b8fd0", "#b03c78", "#5cbf4c"]}, "legend": null},
                "shape": {"field": "g", "type": "nominal", "scale": {"domain": ["1 mg/kg", "3 mg/kg", "10 mg/kg"], "range": ["triangle-up", "M-1,0L1,0M0,-1L0,1", "M-1,-1L1,1M-1,1L1,-1"]}, "legend": null}
              }
            },
            {
              "data": {"name": "orr_c_lines"},
              "mark": {"type": "line"},
              "encoding": {
                "x": {"field": "x", "type": "quantitative"},
                "y": {"field": "y", "type": "quantitative",
                  "axis": {"title": "Probability (OR)", "titleFontSize": 9.5, "titleFontWeight": "normal", "values": [0, 0.2, 0.4, 0.6, 0.8, 1], "labelOverlap": false, "labelSeparation": 0, "format": ".1f", "labelFontSize": 9.5, "tickSize": 4, "labelPadding": 3, "titlePadding": 8, "domain": false}},
                "color": {"field": "g", "type": "nominal", "scale": {"domain": ["Overall", "1 mg/kg", "3 mg/kg", "10 mg/kg"], "range": ["#111111", "#6d9fdc", "#b03c78", "#5cbf4c"]},
                  "legend": {"orient": "none", "legendX": 204.5, "legendY": 15, "title": null, "labelFontSize": 8.5, "labelColor": "#222", "labelAlign": "right", "labelOffset": -16.5, "symbolType": "M-4.4,0L4.4,0", "symbolSize": 25, "rowPadding": 2, "padding": 0}},
                "strokeDash": {"field": "g", "type": "nominal", "scale": {"domain": ["Overall", "1 mg/kg", "3 mg/kg", "10 mg/kg"], "range": [[1, 0], [1, 0], [2, 1], [2, 1]]}, "legend": null},
                "strokeWidth": {"field": "g", "type": "nominal", "scale": {"domain": ["Overall", "1 mg/kg", "3 mg/kg", "10 mg/kg"], "range": [1.8, 1, 1.3, 1.3]}, "legend": null}
              }
            }
          ]
        },
        {
          "width": 238, "height": 181,
          "view": {"stroke": "#333", "strokeWidth": 1.2},
          "title": {"text": "B", "anchor": "start", "frame": "group", "dx": -40, "fontSize": 9.5, "fontWeight": "normal", "offset": 13, "color": "#222"},
          "layer": [
            {
              "data": {"name": "orr_cl_pts"},
              "mark": {"type": "point", "size": 22, "strokeWidth": 0.8, "filled": false},
              "encoding": {
                "x": {"field": "x", "type": "quantitative", "scale": {"domain": [3.3, 21.35], "nice": false, "zero": false},
                  "axis": {"title": "CL [mL/h]", "titleFontSize": 9.5, "titleFontWeight": "normal", "values": [5, 10, 15, 20], "labelFontSize": 9.5, "tickSize": 4, "labelPadding": 2, "titlePadding": 6, "domain": false}},
                "y": {"field": "y", "type": "quantitative", "scale": {"domain": [-0.044, 1.044], "nice": false, "zero": false},
                  "axis": {"title": "Probability (OR)", "titleFontSize": 9.5, "titleFontWeight": "normal", "values": [0, 0.2, 0.4, 0.6, 0.8, 1], "labelOverlap": false, "labelSeparation": 0, "format": ".1f", "labelFontSize": 9.5, "tickSize": 4, "labelPadding": 3, "titlePadding": 8, "domain": false}},
                "stroke": {"field": "g", "type": "nominal", "scale": {"domain": ["1 mg/kg", "3 mg/kg", "10 mg/kg"], "range": ["#5b8fd0", "#b03c78", "#5cbf4c"]}, "legend": null},
                "shape": {"field": "g", "type": "nominal", "scale": {"domain": ["1 mg/kg", "3 mg/kg", "10 mg/kg"], "range": ["triangle-up", "M-1,0L1,0M0,-1L0,1", "M-1,-1L1,1M-1,1L1,-1"]}, "legend": null}
              }
            },
            {
              "data": {"name": "orr_cl_lines"},
              "mark": {"type": "line"},
              "encoding": {
                "x": {"field": "x", "type": "quantitative"},
                "y": {"field": "y", "type": "quantitative",
                  "axis": {"title": "Probability (OR)", "titleFontSize": 9.5, "titleFontWeight": "normal", "values": [0, 0.2, 0.4, 0.6, 0.8, 1], "labelOverlap": false, "labelSeparation": 0, "format": ".1f", "labelFontSize": 9.5, "tickSize": 4, "labelPadding": 3, "titlePadding": 8, "domain": false}},
                "color": {"field": "g", "type": "nominal", "scale": {"domain": ["Overall", "1 mg/kg", "3 mg/kg", "10 mg/kg"], "range": ["#111111", "#9db8e4", "#c0508a", "#5cbf4c"]},
                  "legend": {"orient": "none", "legendX": 204.5, "legendY": 16.5, "title": null, "labelFontSize": 8.5, "labelColor": "#222", "labelAlign": "right", "labelOffset": -16.5, "symbolType": "M-4.4,0L4.4,0", "symbolSize": 25, "rowPadding": 2, "padding": 0}},
                "strokeDash": {"field": "g", "type": "nominal", "scale": {"domain": ["Overall", "1 mg/kg", "3 mg/kg", "10 mg/kg"], "range": [[1, 0], [1, 0], [2, 1], [2, 1]]}, "legend": null},
                "strokeWidth": {"field": "g", "type": "nominal", "scale": {"domain": ["Overall", "1 mg/kg", "3 mg/kg", "10 mg/kg"], "range": [1.8, 1, 1.3, 1.3]}, "legend": null}
              }
            }
          ]
        }
      ],
      "spacing": 82,
      "bounds": "flush",
      "resolve": {"scale": {"color": "independent", "fill": "independent", "stroke": "independent", "shape": "independent", "size": "independent", "strokeDash": "independent", "strokeWidth": "independent"}, "legend": {"color": "independent", "fill": "independent", "stroke": "independent", "shape": "independent", "size": "independent", "strokeDash": "independent", "strokeWidth": "independent"}}
    }
  ],
  "config": {
    "font": "Liberation Sans",
    "view": {"stroke": null},
    "axis": {"grid": false, "labelColor": "#222", "titleColor": "#222", "domainColor": "#555", "tickColor": "#555", "labelFont": "Liberation Sans", "titleFont": "Liberation Sans"},
    "title": {"font": "Liberation Sans"}
  }
}
